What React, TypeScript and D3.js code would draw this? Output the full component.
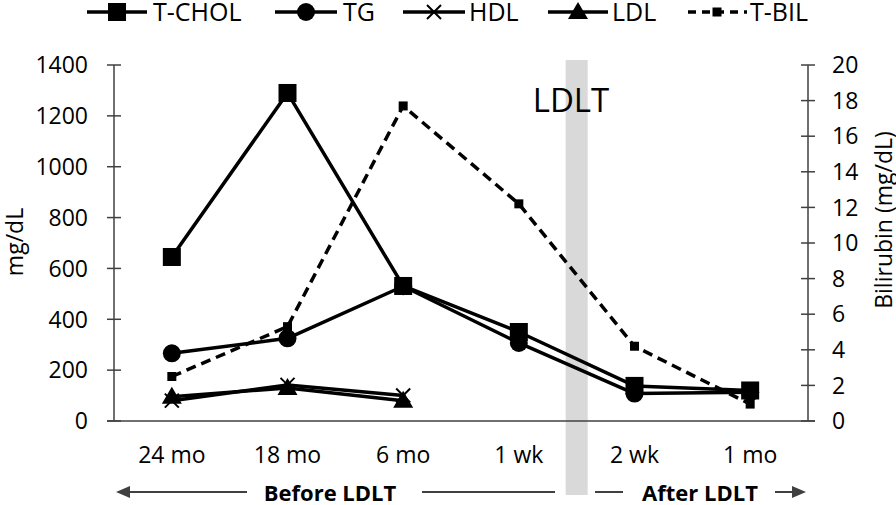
import React from "react";
import * as d3 from "d3";

const categories = ["24 mo", "18 mo", "6 mo", "1 wk", "2 wk", "1 mo"];
const tchol = [645, 1290, 531, 350, 138, 120];
const tg = [266, 325, 530, 307, 108, 113];
const hdl = [80, 142, 100];
const ldl = [95, 130, 80];
const tbil = [2.5, 5.3, 17.7, 12.2, 4.2, 0.95];
const leftTicks = [0, 200, 400, 600, 800, 1000, 1200, 1400];
const rightTicks = [0, 2, 4, 6, 8, 10, 12, 14, 16, 18, 20];
const legendNames = ["T-CHOL", "TG", "HDL", "LDL", "T-BIL"];

const FONT = "'Open Sans', sans-serif";
const AX = "#404040";

function Marker({ type, x, y }: { type: string; x: number; y: number }) {
  if (type === "square") return <rect x={x - 9} y={y - 9} width={18} height={18} fill="#000" />;
  if (type === "circle") return <circle cx={x} cy={y} r={9} fill="#000" />;
  if (type === "x")
    return (
      <path d={`M${x - 7},${y - 7}L${x + 7},${y + 7}M${x - 7},${y + 7}L${x + 7},${y - 7}`} stroke="#000" strokeWidth={2} />
    );
  if (type === "tri") return <path d={`M${x},${y - 10}L${x + 10},${y + 7}L${x - 10},${y + 7}Z`} fill="#000" />;
  if (type === "small") return <rect x={x - 4.5} y={y - 4.5} width={9} height={9} fill="#000" />;
  return null;
}

export default function App() {
  const W = 896, H = 505;
  const x = d3.scaleBand().domain(categories).range([114, 808]);
  const cx = (c: string) => (x(c) as number) + x.bandwidth() / 2;
  const yL = d3.scaleLinear().domain([0, 1400]).range([421, 65]);
  const yR = d3.scaleLinear().domain([0, 20]).range([421, 65]);

  const lineL = d3.line<number>().x((_, i) => cx(categories[i])).y((d) => yL(d));
  const lineR = d3.line<number>().x((_, i) => cx(categories[i])).y((d) => yR(d));

  const series = [
    { vals: tchol, marker: "square" },
    { vals: tg, marker: "circle" },
    { vals: hdl, marker: "x" },
    { vals: ldl, marker: "tri" },
  ];

  const legendPos = [
    { x0: 87, x1: 147, m: 117, t: 153, marker: "square", dash: false },
    { x0: 275, x1: 337, m: 306, t: 343, marker: "circle", dash: false },
    { x0: 403, x1: 465, m: 434, t: 469, marker: "x", dash: false },
    { x0: 548, x1: 608, m: 578, t: 612, marker: "tri", dash: false },
    { x0: 688, x1: 747, m: 717, t: 750, marker: "small", dash: true },
  ];

  const bandX = (cx(categories[3]) + cx(categories[4])) / 2;

  return (
    <svg width={W} height={H} style={{ position: "absolute", left: 0, top: 0, background: "#fff" }} fontFamily={FONT}>
      <rect width={W} height={H} fill="#fff" />
      {/* gray band */}
      <rect x={bandX - 11} y={60} width={22} height={435} fill="#d9d9d9" />
      <text x={571} y={112} fontSize={33} textAnchor="middle" fill="#000">LDLT</text>

      {/* left axis */}
      <line x1={114} x2={114} y1={yL(1400)} y2={yL(0)} stroke={AX} strokeWidth={1.5} />
      {leftTicks.map((t) => (
        <g key={t}>
          <line x1={107} x2={121} y1={yL(t)} y2={yL(t)} stroke={AX} strokeWidth={1.5} />
          <text x={88} y={yL(t)} dy="0.36em" fontSize={23} textAnchor="end" fill="#000">{t}</text>
        </g>
      ))}
      {/* right axis */}
      <line x1={808} x2={808} y1={yR(20)} y2={yR(0)} stroke={AX} strokeWidth={1.5} />
      {rightTicks.map((t) => (
        <g key={t}>
          <line x1={801} x2={815} y1={yR(t)} y2={yR(t)} stroke={AX} strokeWidth={1.5} />
          <text x={832} y={yR(t)} dy="0.36em" fontSize={23} textAnchor="start" fill="#000">{t}</text>
        </g>
      ))}
      {/* x axis */}
      <line x1={107} x2={815} y1={yL(0)} y2={yL(0)} stroke={AX} strokeWidth={1.5} />
      {categories.map((c) => (
        <text key={c} x={cx(c)} y={463} fontSize={23} textAnchor="middle" fill="#000">{c}</text>
      ))}

      {/* axis titles */}
      <text transform="translate(23,242) rotate(-90)" fontSize={23} textAnchor="middle" fill="#000">mg/dL</text>
      <text transform="translate(892,220) rotate(-90)" fontSize={23} textAnchor="middle" fill="#000">Bilirubin (mg/dL)</text>

      {/* T-BIL */}
      <path d={lineR(tbil) || ""} fill="none" stroke="#000" strokeWidth={3.5} strokeDasharray="10,6" />
      {tbil.map((v, i) => <Marker key={i} type="small" x={cx(categories[i])} y={yR(v)} />)}

      {series.map((s, si) => (
        <g key={si}>
          <path d={lineL(s.vals) || ""} fill="none" stroke="#000" strokeWidth={3.5} strokeLinejoin="round" />
          {s.vals.map((v, i) => <Marker key={i} type={s.marker} x={cx(categories[i])} y={yL(v)} />)}
        </g>
      ))}

      {/* legend */}
      {legendPos.map((l, i) => (
        <g key={i}>
          <line x1={l.x0} x2={l.x1} y1={12} y2={12} stroke="#000" strokeWidth={3.5} strokeDasharray={l.dash ? "8,6" : undefined} />
          <Marker type={l.marker} x={l.m} y={12} />
          <text x={l.t} y={21} fontSize={25} fill="#000">{legendNames[i]}</text>
        </g>
      ))}

      {/* before / after annotations */}
      <line x1={128} x2={247} y1={492} y2={492} stroke={AX} strokeWidth={2} />
      <path d="M116,492L130,486L130,498Z" fill={AX} />
      <text x={330} y={501} fontSize={22} fontWeight="bold" textAnchor="middle" fill="#000">Before LDLT</text>
      <line x1={422} x2={555} y1={492} y2={492} stroke={AX} strokeWidth={2} />
      <line x1={595} x2={623} y1={492} y2={492} stroke={AX} strokeWidth={2} />
      <text x={700} y={501} fontSize={22} fontWeight="bold" textAnchor="middle" fill="#000">After LDLT</text>
      <line x1={775} x2={794} y1={492} y2={492} stroke={AX} strokeWidth={2} />
      <path d="M806,492L792,486L792,498Z" fill={AX} />
    </svg>
  );
}
